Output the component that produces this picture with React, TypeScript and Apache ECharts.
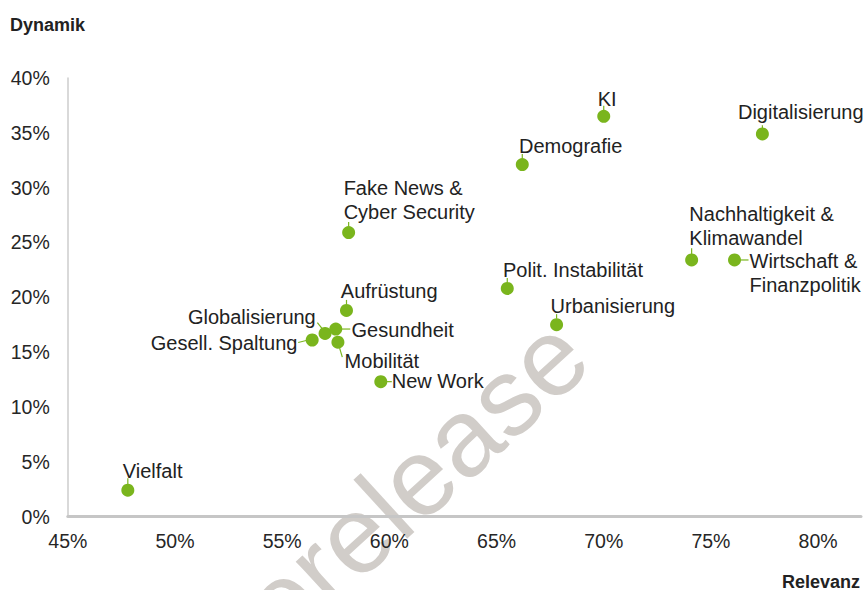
import React, { useEffect, useRef } from "react";
import * as echarts from "echarts";

// ---- data ----
const topics = [
  "Vielfalt",
  "Fake News &\nCyber Security",
  "Aufrüstung",
  "Globalisierung",
  "Gesundheit",
  "Gesell. Spaltung",
  "Mobilität",
  "New Work",
  "Polit. Instabilität",
  "Urbanisierung",
  "Demografie",
  "KI",
  "Digitalisierung",
  "Nachhaltigkeit &\nKlimawandel",
  "Wirtschaft &\nFinanzpolitik",
];
const relevanz = [47.8, 58.1, 58.0, 57.0, 57.5, 56.4, 57.6, 59.6, 65.5, 67.8, 66.2, 70.0, 77.4, 74.1, 76.1];
const dynamik = [2.4, 25.9, 18.8, 16.7, 17.1, 16.1, 15.9, 12.3, 20.8, 17.5, 32.1, 36.5, 34.9, 23.4, 23.4];
const xTicks = [45, 50, 55, 60, 65, 70, 75, 80];
const yTicks = [0, 5, 10, 15, 20, 25, 30, 35, 40];
const xAxisTitle = "Relevanz";
const yAxisTitle = "Dynamik";
const watermark = "prerelease";

// ---- label placement (style, px relative to the dot) ----
type Place = { dx: number; dy: number; align: string; stub: number[] };
const TOP = [0, -6, 0, -10.5];
const placement: Record<string, Place> = {
  "Vielfalt": { dx: -5, dy: -19, align: "left", stub: [0, -6, 0, -12] },
  "Fake News &\nCyber Security": { dx: -5, dy: -32.5, align: "left", stub: TOP },
  "Aufrüstung": { dx: -5.7, dy: -19, align: "left", stub: TOP },
  "Globalisierung": { dx: -9.3, dy: -16.8, align: "right", stub: [-2.3, -4, -7.7, -10.7] },
  "Gesundheit": { dx: 15.7, dy: 1, align: "left", stub: [6, 0, 14.5, 0] },
  "Gesell. Spaltung": { dx: -14.7, dy: 3.3, align: "right", stub: [-6, 0.5, -14, 2.5] },
  "Mobilität": { dx: 6.7, dy: 18.4, align: "left", stub: [1.7, 6, 4.4, 15] },
  "New Work": { dx: 11, dy: -0.5, align: "left", stub: [6, 0, 11, 0] },
  "Polit. Instabilität": { dx: -4.3, dy: -18.6, align: "left", stub: TOP },
  "Urbanisierung": { dx: -6, dy: -18.3, align: "left", stub: TOP },
  "Demografie": { dx: -3.3, dy: -18.3, align: "left", stub: TOP },
  "KI": { dx: -6, dy: -17.7, align: "left", stub: TOP },
  "Digitalisierung": { dx: -24.4, dy: -22.3, align: "left", stub: [0, -6, 0, -8.6] },
  "Nachhaltigkeit &\nKlimawandel": { dx: -2.3, dy: -33.7, align: "left", stub: [0, -6, 0, -11.7] },
  "Wirtschaft &\nFinanzpolitik": { dx: 15, dy: 12.7, align: "left", stub: [6, 0, 14, 0] },
};

const GREEN = "#7ab51d";
const FONT = "'Liberation Sans', Arial, Helvetica, sans-serif";

export default function App() {
  const ref = useRef<HTMLDivElement>(null);

  useEffect(() => {
    document.body.style.margin = "0";
    const chart = echarts.init(ref.current!, null, { renderer: "svg" });
    const data = topics.map((t, i) => [relevanz[i], dynamik[i], i]);

    chart.setOption({
      animation: false,
      grid: { left: 67.8, right: 3, top: 78, bottom: 73.5, containLabel: false },
      xAxis: {
        type: "value",
        min: xTicks[0],
        max: 82,
        interval: 5,
        axisLine: { show: true, onZero: true, lineStyle: { color: "#c6c6c6", width: 3 } },
        axisTick: { show: false },
        splitLine: { show: false },
        axisLabel: {
          margin: 14,
          fontSize: 19.5,
          fontFamily: FONT,
          color: "#262626",
          formatter: (v: number) => (xTicks.includes(v) ? v + "%" : ""),
        },
      },
      yAxis: {
        type: "value",
        min: yTicks[0],
        max: yTicks[yTicks.length - 1],
        interval: 5,
        axisLine: { show: true, lineStyle: { color: "#cccccc", width: 1.5 } },
        axisTick: { show: false },
        splitLine: { show: false },
        axisLabel: {
          margin: 18,
          fontSize: 19.5,
          fontFamily: FONT,
          color: "#262626",
          formatter: (v: number) => v + "%",
        },
      },
      graphic: [
        {
          type: "text",
          x: 378,
          y: 513,
          rotation: 0.74,
          z: -10,
          silent: true,
          style: {
            text: watermark,
            font: `110px ${FONT}`,
            fill: "#d1cdc9",
            align: "center",
            verticalAlign: "middle",
          },
        },
        {
          type: "text",
          x: 10,
          y: 24.5,
          style: { text: yAxisTitle, font: `bold 18px ${FONT}`, fill: "#222", align: "left", verticalAlign: "middle" },
        },
        {
          type: "text",
          x: 860,
          y: 581.5,
          style: { text: xAxisTitle, font: `bold 18px ${FONT}`, fill: "#222", align: "right", verticalAlign: "middle" },
        },
      ],
      series: [
        {
          type: "custom",
          data,
          z: 5,
          renderItem: (params: any, api: any) => {
            const idx = api.value(2);
            const name = topics[idx];
            const p = placement[name];
            const pt = api.coord([api.value(0), api.value(1)]);
            return {
              type: "group",
              x: pt[0],
              y: pt[1],
              children: [
                {
                  type: "line",
                  shape: { x1: p.stub[0], y1: p.stub[1], x2: p.stub[2], y2: p.stub[3] },
                  style: { stroke: GREEN, lineWidth: 1.2 },
                },
                { type: "circle", shape: { cx: 0, cy: 0, r: 6.5 }, style: { fill: GREEN } },
                {
                  type: "text",
                  x: p.dx,
                  y: p.dy,
                  style: {
                    text: name,
                    font: `20px ${FONT}`,
                    fill: "#222",
                    align: p.align,
                    verticalAlign: "middle",
                    lineHeight: 24,
                  },
                },
              ],
            };
          },
        },
      ],
    });
    return () => chart.dispose();
  }, []);

  return <div ref={ref} style={{ width: 864, height: 590, position: "absolute", left: 0, top: 0 }} />;
}
